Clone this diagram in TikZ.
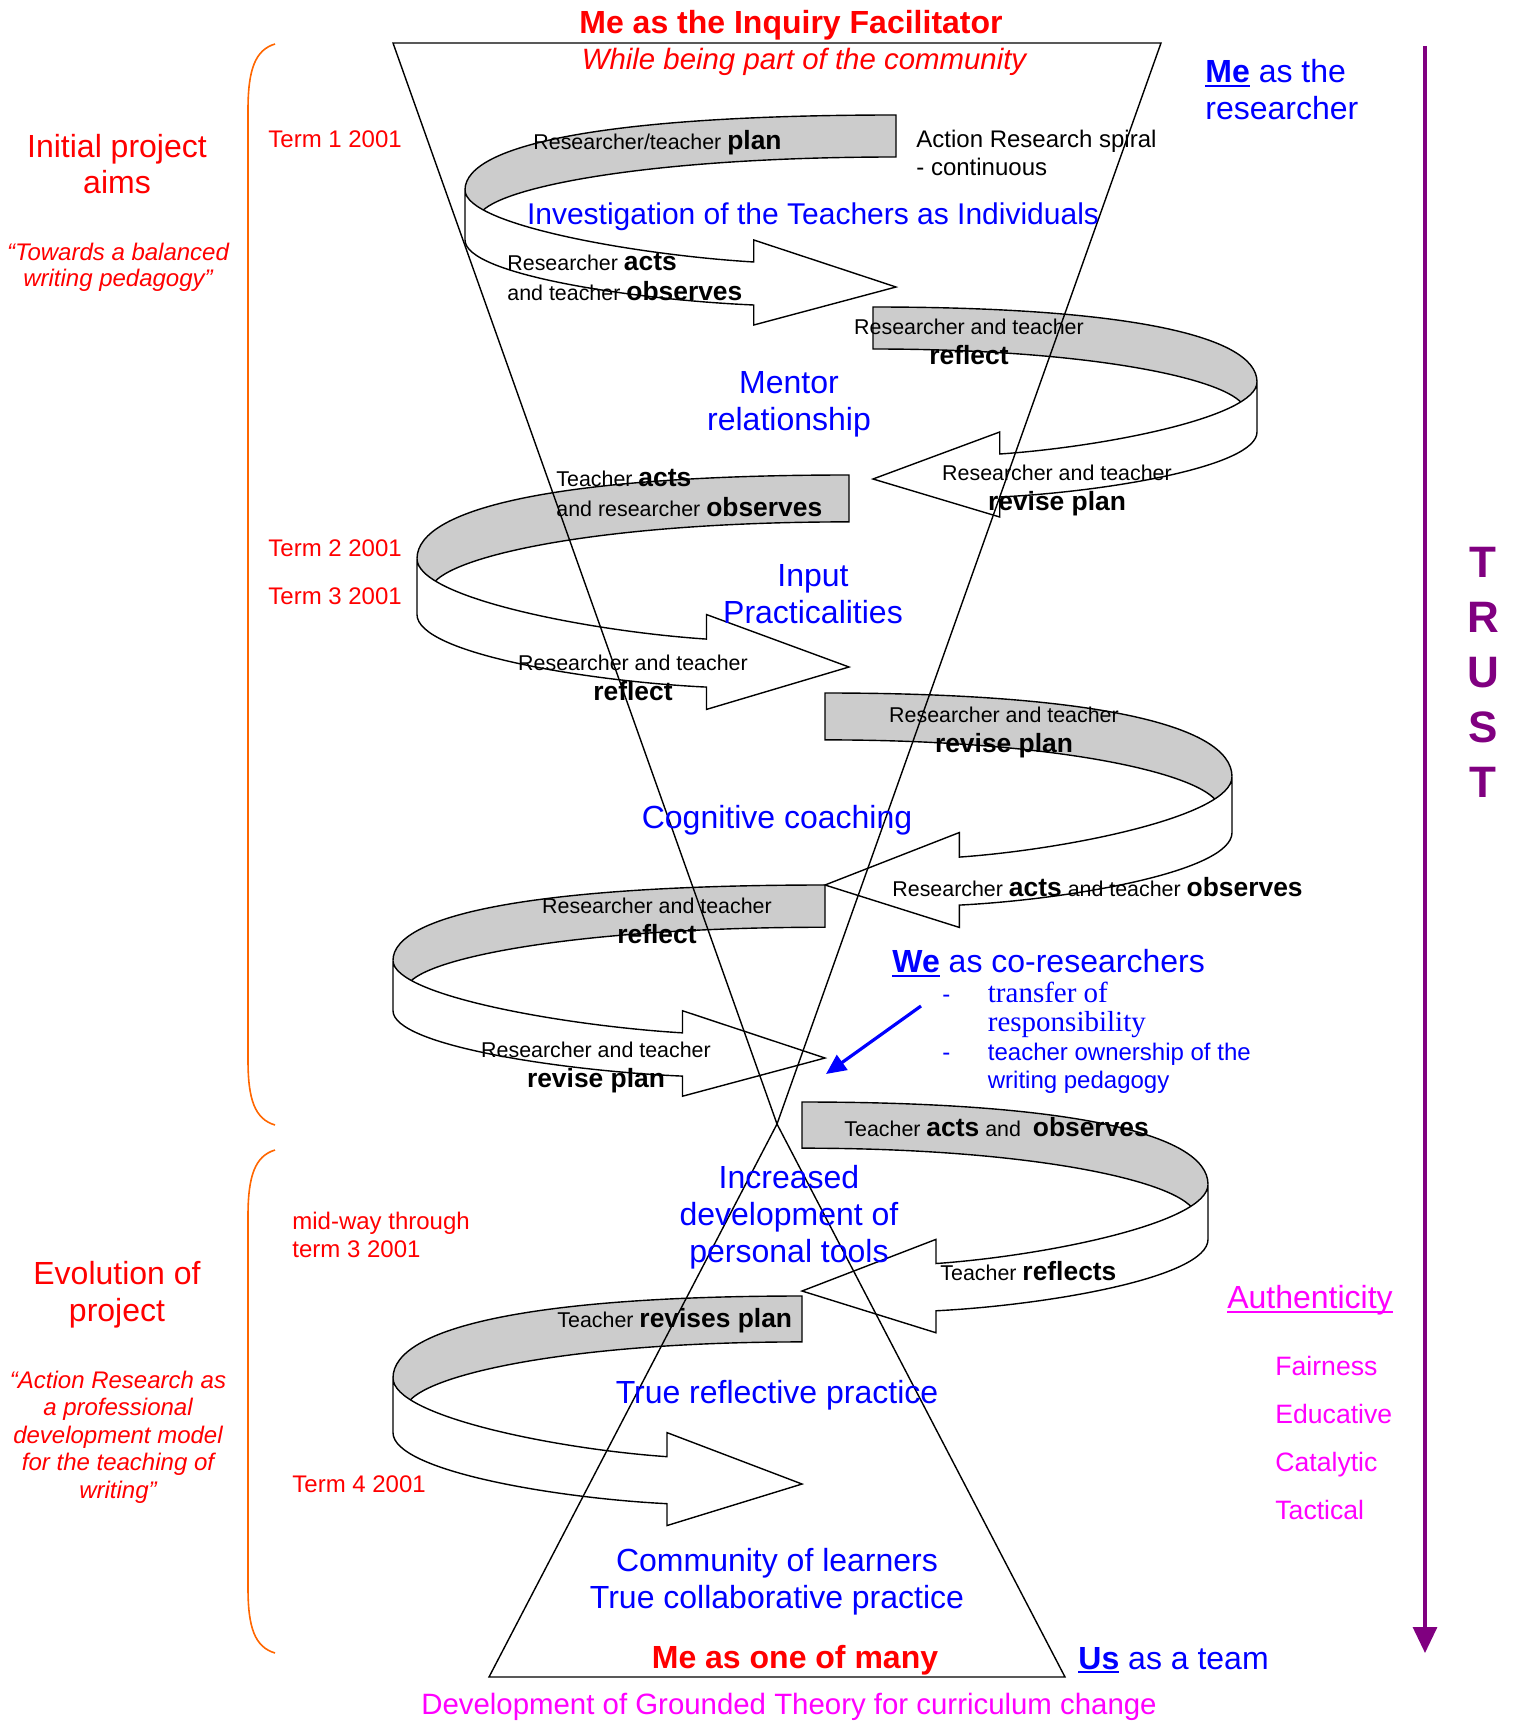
\documentclass[tikz,border=0pt]{standalone}
\usepackage{fontspec}
\setmainfont{Liberation Sans}
\newfontfamily\timesfont{Liberation Serif}
\usetikzlibrary{arrows.meta}
\definecolor{trustpurple}{RGB}{128,0,128}
\definecolor{braceorange}{RGB}{255,102,0}
\definecolor{bandgray}{RGB}{204,204,204}
\definecolor{authmagenta}{RGB}{255,0,255}
\newcommand{\fsz}[2]{\fontsize{#1}{#2}\selectfont}
\newcommand{\bw}[1]{{\fsz{13.2}{15}\bfseries #1}}
\newcommand{\undl}[1]{\leavevmode\setbox0\hbox{#1}\rlap{\rule[-0.13em]{\wd0}{0.07em}}\box0\relax}

% one turn of the spiral: band end x, far x, top y, depth to arrow tip
\newcommand{\spiralloop}[4]{%
  \begin{scope}[shift={(#1,#3)},xscale={#2-#1},yscale={#4/172}]
    \fill[bandgray] (0,0) -- (0,42) .. controls (0.55,42) and (0.9,70) .. (0.96,96)
      .. controls (0.985,88) and (1,82) .. (1,75) .. controls (1,28) and (0.65,0) .. (0,0) -- cycle;
    \draw[loopline] (1,75) .. controls (1,28) and (0.65,0) .. (0,0) -- (0,42)
      .. controls (0.55,42) and (0.9,70) .. (0.96,96);
    \draw[loopline,fill=white] (1,75) -- (1,125) .. controls (1,160) and (0.6,185) .. (0.33,190)
      -- (0.33,210) -- (0,172) -- (0.33,125) -- (0.33,147)
      .. controls (0.6,140) and (1,110) .. (1,75) -- cycle;
  \end{scope}}

\begin{document}
\begin{tikzpicture}[x=0.5pt,y=-0.5pt,
    every node/.style={inner sep=0pt},
    loopline/.style={line width=0.7pt},
    voice/.style={font=\fsz{10.7}{15}},
    theme/.style={text=blue,font=\fsz{16}{18.5},align=center},
    phase/.style={text=red,font=\fsz{12}{14}},
    quality/.style={text=authmagenta,font=\fsz{13.3}{24}}]
  \useasboundingbox (0,0) rectangle (1518,1722);

  % the spiral, top to bottom
  \spiralloop{896}{465}{115}{172}
  \spiralloop{873}{1257}{307}{172}
  \spiralloop{849}{417}{475}{192}
  \spiralloop{825}{1232}{693}{192}
  \spiralloop{825}{393}{885}{173}
  \spiralloop{802}{1208}{1102}{189}
  \spiralloop{802}{393}{1296}{188}

  % funnel and cone
  \coordinate (ftl) at (393,43);
  \coordinate (ftr) at (1161,43);
  \coordinate (waist) at (777,1124);
  \coordinate (cbl) at (489,1677);
  \coordinate (cbr) at (1065,1677);
  \draw[loopline] (ftl) -- (ftr) -- (waist) -- cycle;
  \draw[loopline] (cbl) -- (cbr) -- (waist) -- cycle;

  % brackets on the left
  \draw[braceorange,line width=0.8pt] (275,44) .. controls (255,50) and (248,70) .. (248,110)
    -- (248,1060) .. controls (248,1100) and (255,1119) .. (275,1125);
  \draw[braceorange,line width=0.8pt] (275,1150) .. controls (255,1156) and (248,1176) .. (248,1216)
    -- (248,1588) .. controls (248,1628) and (255,1647) .. (275,1653);

  % trust arrow
  \coordinate (trusttop) at (1425,46);
  \coordinate (trustend) at (1425,1653);
  \draw[trustpurple,line width=1.6pt,-{Triangle[length=13pt,width=12pt]}] (trusttop) -- (trustend);
  \node[text=trustpurple,font=\fsz{22}{27.5}\bfseries,align=center] (trust) at (1483,672) {T\\R\\U\\S\\T};

  % top and bottom
  \node[text=red,font=\fsz{16}{19}\bfseries,anchor=mid] (facilitator) at (791,28.5) {Me as the Inquiry Facilitator};
  \node[text=red,font=\fsz{14.7}{17}\itshape,anchor=mid] (community) at (804,64.5) {While being part of the community};
  \node[text=blue,font=\fsz{16}{18.5},align=left,anchor=west] (researcher) at (1205,90) {\undl{\textbf{Me}} as the\\researcher};
  \node[text=red,font=\fsz{16}{19}\bfseries,anchor=mid] (many) at (795,1663) {Me as one of many};
  \node[text=blue,font=\fsz{16}{18.5},anchor=mid west] (team) at (1078,1664) {\undl{\textbf{Us}} as a team};
  \node[text=authmagenta,font=\fsz{14.7}{17},anchor=mid] (grounded) at (789,1709.5) {Development of Grounded Theory for curriculum change};

  % left column
  \node[text=red,font=\fsz{16}{18},align=center] (aims) at (117,164) {Initial project\\aims};
  \node[text=red,font=\fsz{12}{13}\itshape,align=center] (aimsquote) at (118,267) {“Towards a balanced\\writing pedagogy”};
  \node[phase,anchor=mid west] (term1) at (268,142.5) {Term 1 2001};
  \node[phase,anchor=mid west] (term2) at (268,551.5) {Term 2 2001};
  \node[phase,anchor=mid west] (term3) at (268,599.5) {Term 3 2001};
  \node[phase,align=left,anchor=west] (midway) at (292,1235) {mid-way through\\term 3 2001};
  \node[text=red,font=\fsz{16}{18.5},align=center] (evolution) at (117,1295) {Evolution of\\project};
  \node[text=red,font=\fsz{12}{13.7}\itshape,align=center] (evolquote) at (118,1437) {“Action Research as\\a professional\\development model\\for the teaching of\\writing”};
  \node[phase,anchor=mid west] (term4) at (292,1487.5) {Term 4 2001};

  % spiral labels
  \node[voice,anchor=mid west] (plan1) at (533,144.5) {Researcher/teacher \bw{plan}};
  \node[font=\fsz{12}{14},align=left,anchor=west] (spiral) at (916,153) {Action Research spiral\\- continuous};
  \node[theme,font=\fsz{15}{18},anchor=mid] (individuals) at (813,219.5) {Investigation of the Teachers as Individuals};
  \node[voice,align=left,anchor=west] (act1) at (507,277) {Researcher \bw{acts}\\and teacher \bw{observes}};
  \node[voice,align=center] (reflect1) at (969,342) {Researcher and teacher\\\bw{reflect}};
  \node[theme] (mentor) at (789,404) {Mentor\\relationship};
  \node[voice,align=left,anchor=west] (act2) at (556,493) {Teacher \bw{acts}\\and researcher \bw{observes}};
  \node[voice,align=center] (revise1) at (1057,490) {Researcher and teacher\\\bw{revise plan}};
  \node[theme] (input) at (813,594) {Input\\Practicalities};
  \node[voice,align=center] (reflect2) at (633,678) {Researcher and teacher\\\bw{reflect}};
  \node[voice,align=center] (revise2) at (1004,732) {Researcher and teacher\\\bw{revise plan}};
  \node[theme,anchor=mid] (coaching) at (777,823.5) {Cognitive coaching};
  \node[voice,anchor=mid west] (act3) at (892,891.5) {Researcher \bw{acts} and teacher \bw{observes}};
  \node[voice,align=center] (reflect3) at (657,921) {Researcher and teacher\\\bw{reflect}};
  \node[voice,align=center] (revise3) at (596,1067) {Researcher and teacher\\\bw{revise plan}};
  \node[voice,anchor=mid west] (act4) at (844,1131.5) {Teacher \bw{acts} and \ \bw{observes}};
  \node[theme] (tools) at (789,1217) {Increased\\development of\\personal tools};
  \node[voice,anchor=mid west] (reflect4) at (940,1275.5) {Teacher \bw{reflects}};
  \node[voice,anchor=mid west] (revise4) at (557,1322.5) {Teacher \bw{revises plan}};
  \node[theme,anchor=mid] (reflective) at (777,1398.5) {True reflective practice};
  \node[theme] (learners) at (777,1582) {Community of learners\\True collaborative practice};

  % co-researchers
  \node[text=blue,font=\fsz{16}{18.5},anchor=mid west] (coresearchers) at (892,967.5) {\undl{\textbf{We}} as co-researchers};
  \node[text=blue,font=\fsz{12}{14.3},anchor=west] (transfer) at (942,1040) {%
    \begin{tabular}{@{}l@{}l@{}}
      \makebox[22.75pt][l]{-} & {\timesfont\fsz{14.5}{14.3}transfer of}\\
       & {\timesfont\fsz{14.5}{14.3}responsibility}\\
      \makebox[22.75pt][l]{-} & teacher ownership of the\\
       & writing pedagogy
    \end{tabular}};
  \coordinate (wefrom) at (921,1006);
  \coordinate (weto) at (826,1074);
  \draw[blue,line width=1.6pt,-{Triangle[length=10pt,width=9pt]}] (wefrom) -- (weto);

  % authenticity criteria
  \node[text=authmagenta,font=\fsz{16}{18.5},anchor=mid] (authenticity) at (1310,1303.5) {\undl{Authenticity}};
  \node[quality,align=left,anchor=west] (criteria) at (1275,1438) {Fairness\\Educative\\Catalytic\\Tactical};
\end{tikzpicture}
\end{document}
